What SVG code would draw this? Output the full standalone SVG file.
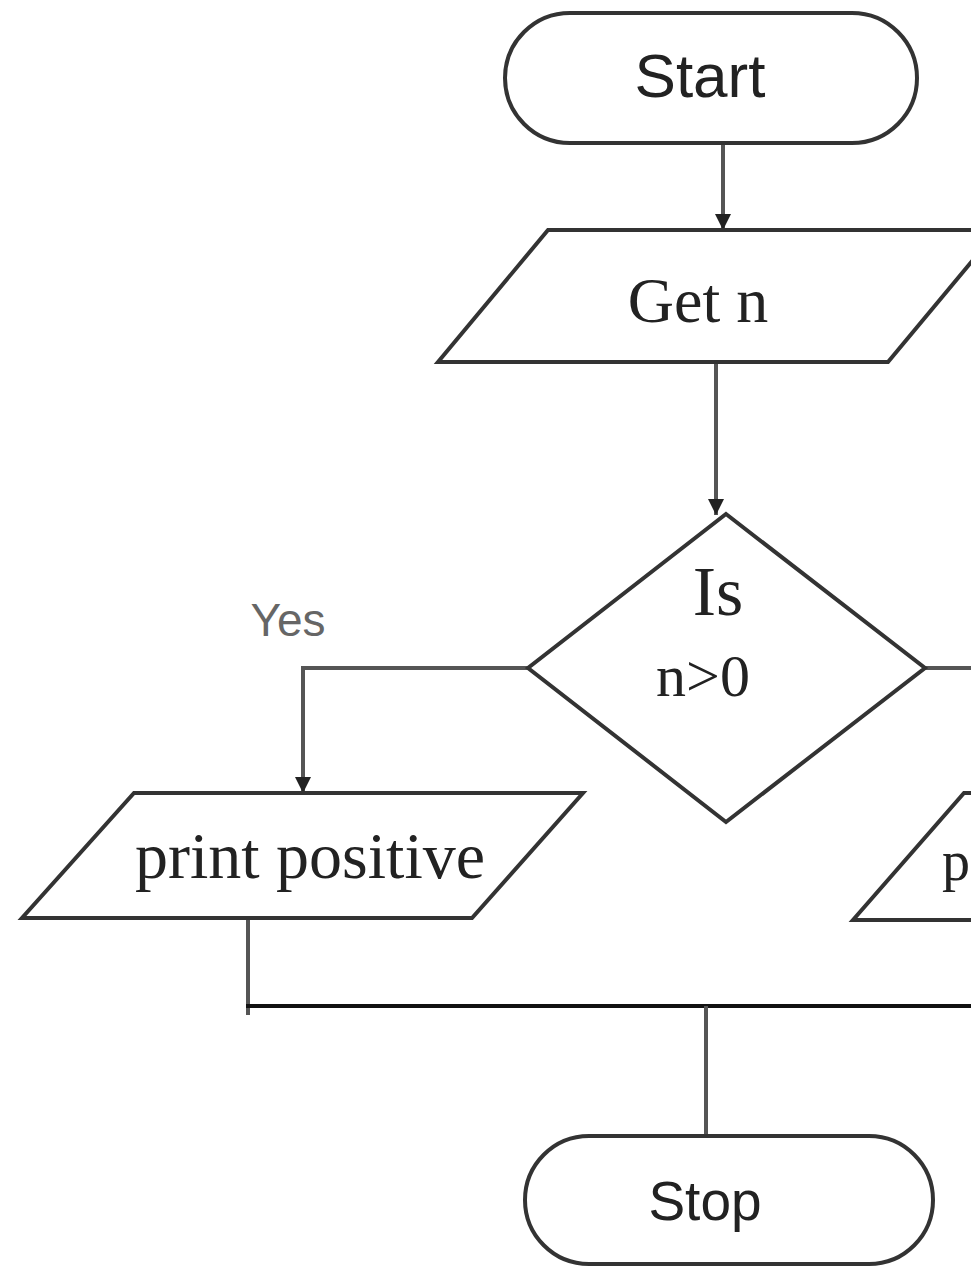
<svg xmlns="http://www.w3.org/2000/svg" width="971" height="1268" viewBox="0 0 971 1268">
  <defs>
    <marker id="arrow" viewBox="0 0 10 10" refX="10" refY="5" markerWidth="4" markerHeight="4" orient="auto" markerUnits="strokeWidth">
      <path d="M0,0 L10,5 L0,10 z" fill="#222"/>
    </marker>
  </defs>
  <style>
    .shape { fill: #ffffff; stroke: #333333; stroke-width: 4; }
    .line { fill: none; stroke: #555555; stroke-width: 4; }
    .merge { fill: none; stroke: #111111; stroke-width: 4; }
    .sans { font-family: "Liberation Sans", Arial, sans-serif; fill: #222222; text-anchor: middle; }
    .serif { font-family: "Liberation Serif", "Times New Roman", serif; fill: #222222; text-anchor: middle; }
  </style>
  <rect width="971" height="1268" fill="#ffffff"/>

  <!-- connectors -->
  <g id="connectors">
    <line class="line" x1="723" y1="145" x2="723" y2="230" marker-end="url(#arrow)"/>
    <line class="line" x1="716" y1="364" x2="716" y2="515" marker-end="url(#arrow)"/>
    <polyline class="line" points="528,668 303,668 303,793" marker-end="url(#arrow)"/>
    <line class="line" x1="925" y1="668" x2="971" y2="668"/>
    <line class="line" x1="248" y1="920" x2="248" y2="1015"/>
    <line class="merge" x1="246" y1="1006" x2="971" y2="1006"/>
    <line class="line" x1="706" y1="1006" x2="706" y2="1137"/>
    <text class="sans" x="288" y="636" font-size="46" style="fill:#666666">Yes</text>
  </g>

  <!-- start terminator -->
  <g id="start">
    <rect class="shape" x="505" y="13" width="412" height="130" rx="65" ry="65"/>
    <text class="sans" x="700" y="97" font-size="62">Start</text>
  </g>

  <!-- input step -->
  <g id="get-n">
    <polygon class="shape" points="548,230 998,230 888,362 438,362"/>
    <text class="serif" x="698" y="322" font-size="64">Get n</text>
  </g>

  <!-- decision -->
  <g id="decision">
    <polygon class="shape" points="726,514 925,668 726,822 528,668"/>
    <text class="serif" x="718" y="615" font-size="70">Is</text>
    <text class="serif" x="703" y="696" font-size="60">n&gt;0</text>
  </g>

  <!-- yes output -->
  <g id="print-positive">
    <polygon class="shape" points="134,793 583,793 472,918 22,918"/>
    <text class="serif" x="310" y="878" font-size="66">print positive</text>
  </g>

  <!-- no output, running off the right edge -->
  <g id="print-other">
    <polygon class="shape" points="964,793 1200,793 1100,920 853,920"/>
    <text class="serif" x="942" y="880" font-size="56" style="text-anchor:start">p</text>
  </g>

  <!-- stop terminator -->
  <g id="stop">
    <rect class="shape" x="525" y="1136" width="408" height="128" rx="64" ry="64"/>
    <text class="sans" x="705" y="1220" font-size="55">Stop</text>
  </g>
</svg>
